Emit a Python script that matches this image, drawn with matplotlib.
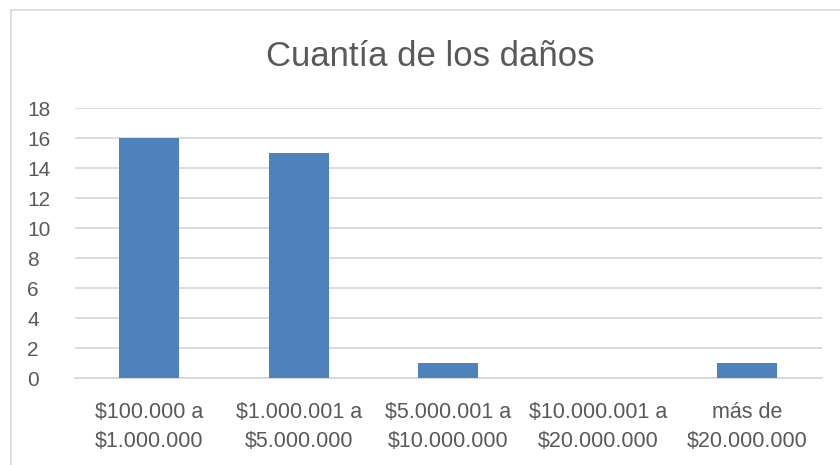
import matplotlib
matplotlib.use("Agg")
import matplotlib.pyplot as plt
from matplotlib.patches import Rectangle

categories = ["$100.000 a\n$1.000.000", "$1.000.001 a\n$5.000.000", "$5.000.001 a\n$10.000.000",
              "$10.000.001 a\n$20.000.000", "más de\n$20.000.000"]
values = [16, 15, 1, 0, 1]
yticks = [0, 2, 4, 6, 8, 10, 12, 14, 16, 18]
title = "Cuantía de los daños"

plt.rcParams['font.family'] = ['Liberation Sans', 'DejaVu Sans']

fig = plt.figure(figsize=(8.4, 4.65), dpi=100)
fig.patch.set_facecolor('white')
fig.patches.append(Rectangle((11/840, -0.1), 1, 1.1 - 10/465, transform=fig.transFigure,
                             fill=False, edgecolor='#d9d9d9', lw=1.2))

ax = fig.add_axes([74.5/840, 1 - 378/465, (822 - 74.5)/840, (378 - 108)/465])
x = list(range(len(categories)))
ax.bar(x, values, width=0.4, color='#4f81bd', zorder=3)
ax.set_xlim(-0.5, len(categories) - 0.5)
ax.set_ylim(0, 18)
ax.set_yticks(yticks)
ax.set_xticks(x)
ax.set_xticklabels(categories, fontsize=15.5, color='#595959', linespacing=1.55)
ax.tick_params(axis='y', labelsize=15, labelcolor='#595959', length=0, pad=34)
ax.tick_params(axis='x', length=0, pad=17)
for lab in ax.get_yticklabels():
    lab.set_horizontalalignment('left')
ax.grid(axis='y', color='#d9d9d9', lw=1.3, zorder=0)
for s in ['top', 'right', 'left']:
    ax.spines[s].set_visible(False)
ax.spines['bottom'].set_color('#d9d9d9')
ax.spines['bottom'].set_linewidth(1.3)
fig.text(430/840, 1 - 56/465, title, ha='center', va='center', fontsize=25, color='#595959')

fig.savefig('out.png', dpi=100)
